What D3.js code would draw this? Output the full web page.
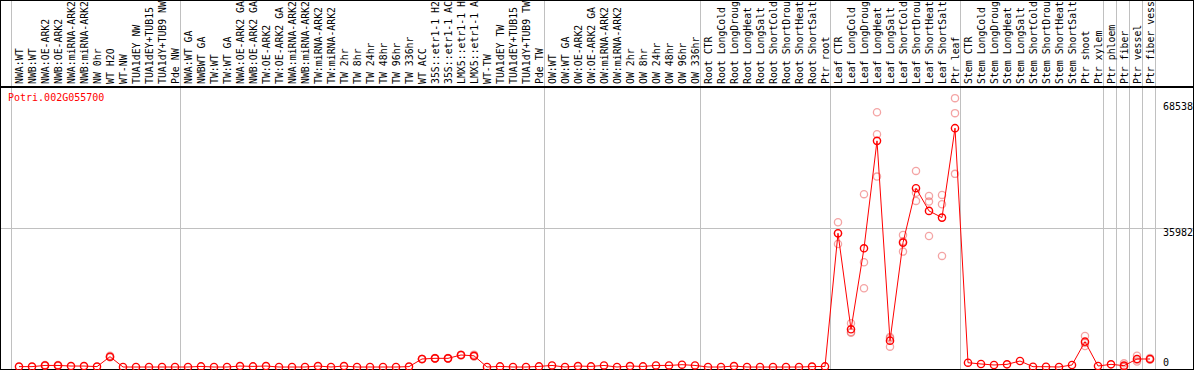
<!DOCTYPE html>
<html><head><meta charset="utf-8">
<script src="https://cdn.jsdelivr.net/npm/d3@7"></script>
<style>
html,body{margin:0;padding:0;background:#fff;}
svg{display:block;}
text{font-family:"DejaVu Sans Mono",monospace;font-size:10px;}
</style></head>
<body>
<svg id="c" width="1194" height="370"></svg>
<script>
const title = "Potri.002G055700";
const categories = [
"NWA:WT","NWB:WT","NWA:OE-ARK2","NWB:OE-ARK2","NWA:miRNA-ARK2","NWB:miRNA-ARK2","NW 0hr","WT H2O","WT-NW","TUA1dEY NW","TUA1dEY+TUB15 NW","TUA1dY+TUB9 NW","Pde NW",
"NWA:WT GA","NWBWT GA","TW:WT","TW:WT GA","NWA:OE-ARK2 GA","NWB:OE-ARK2 GA","TW:OE-ARK2","TW:OE-ARK2 GA","NWA:miRNA-ARK2","NWB:miRNA-ARK2","TW:miRNA-ARK2","TW:miRNA-ARK2","TW 2hr","TW 8hr","TW 24hr","TW 48hr","TW 96hr","TW 336hr","WT ACC","35S::etr1-1 H2O","35S::etr1-1 ACC","LMX5::etr1-1 H2O","LMX5::etr1-1 ACC","WT-TW","TUA1dEY TW","TUA1dEY+TUB15 TW","TUA1dY+TUB9 TW","Pde TW",
"OW:WT","OW:WT GA","OW:OE-ARK2","OW:OE-ARK2 GA","OW:miRNA-ARK2","OW:miRNA-ARK2","OW 2hr","OW 8hr","OW 24hr","OW 48hr","OW 96hr","OW 336hr",
"Root CTR","Root LongCold","Root LongDrought","Root LongHeat","Root LongSalt","Root ShortCold","Root ShortDrought","Root ShortHeat","Root ShortSalt","Ptr root",
"Leaf CTR","Leaf LongCold","Leaf LongDrought","Leaf LongHeat","Leaf LongSalt","Leaf ShortCold","Leaf ShortDrought","Leaf ShortHeat","Leaf ShortSalt","Ptr leaf",
"Stem CTR","Stem LongCold","Stem LongDrought","Stem LongHeat","Stem LongSalt","Stem ShortCold","Stem ShortDrought","Stem ShortHeat","Stem ShortSalt","Ptr shoot","Ptr xylem",
"Ptr phloem","Ptr fiber","Ptr vessel","Ptr fiber vessel"
];
const means = [
100,100,400,400,250,250,100,2670,0,0,0,0,0,
0,150,0,0,250,150,250,0,0,0,250,0,250,0,0,0,0,100,2070,2240,2240,3100,2900,0,150,0,0,150,
400,0,250,150,400,0,250,150,400,400,600,400,
0,0,250,0,0,0,0,0,100,150,
34600,9750,30700,58490,6810,32170,46240,40370,38640,61770,
1110,780,520,690,1550,80,80,0,520,6550,260,
690,350,2070,2070
];
// replicate values where they are visibly apart from the mean (index -> values)
const replicateIdx = [2,3,7,31,32,33,34,35,63,64,65,66,67,68,69,70,71,72,82,85,86,87];
const replicateVals = [
[300,500,400],[300,500,400],[2900,2500,2600],[2000,2100,2100],[2200,2300,2200],[2300,2200,2200],[3000,3200,3100],[3200,2700,2800],
[37450,31830,34520],[11300,8880,9070],[44700,27100,20370],[65900,60220,49250],[7420,5260,7750],[34160,29840,32510],[50720,42960,45040],[44250,42780,33900],[44510,42100,28730],[69540,65660,49950],
[8020,5430,6200],[950,0,100],[2920,1400,1900],[2300,1900,2000]
];
const yTicks = [0, 35982, 68538];
const gridTicks = [35982];
const groupBreaks = [0,13,41,53,63,73,84,85,86,87,88];

const W = 1194, H = 370;
const svg = d3.select("#c");
const x = d3.scaleBand().domain(d3.range(categories.length + 1)).range([11, 11 + 13*(categories.length+1)]).paddingInner(0).paddingOuter(0);
const px = i => x(i) + 8;
const y = d3.scaleLinear().domain([0, 68538]).range([367, 102]);

// vertical group grid lines
svg.append("g").selectAll("line").data(groupBreaks).join("line")
  .attr("x1", d => x(d) + 0.5).attr("x2", d => x(d) + 0.5)
  .attr("y1", 0).attr("y2", H)
  .attr("stroke", "#c0c0c0").attr("stroke-width", 1).attr("shape-rendering","crispEdges");

// horizontal grid line
svg.append("g").selectAll("line").data(gridTicks).join("line")
  .attr("x1", 0).attr("x2", W).attr("y1", d => Math.round(y(d)) + 0.5).attr("y2", d => Math.round(y(d)) + 0.5)
  .attr("stroke", "#c0c0c0").attr("stroke-width", 1).attr("shape-rendering","crispEdges");

// category labels: the header is 84px tall, so only the first 14 characters fit (as in the original)
const fit = s => s.length > 14 ? s.slice(0, 14).trimEnd() : s;
svg.append("g").selectAll("text").data(categories).join("text")
  .attr("transform", (d,i) => `translate(${px(i)+4},84) rotate(-90)`)
  .attr("fill", "#000")
  .style("font-size", "9.85px")
  .text(d => fit(d))
  .append("title").text(d => d);

// header separator
svg.append("line").attr("x1",0).attr("x2",W).attr("y1",87).attr("y2",87)
  .attr("stroke","#000").attr("stroke-width",2).attr("shape-rendering","crispEdges");

// border
svg.append("rect").attr("x",0.5).attr("y",0.5).attr("width",W-1).attr("height",H-1.5)
  .attr("fill","none").attr("stroke","#000").attr("stroke-width",1).attr("shape-rendering","crispEdges");

// y tick labels
svg.append("g").selectAll("text").data(yTicks).join("text")
  .attr("x", 1163)
  .attr("y", d => d === 0 ? 366 : y(d) + 8)
  .attr("fill", "#000")
  .text(d => d);

// title
svg.append("text").attr("x", 8).attr("y", 101).attr("fill", "#ff0000").text(title);

// replicate points
const repData = [];
replicateIdx.forEach((idx, k) => replicateVals[k].forEach(v => repData.push({i: idx, v})));
svg.append("g").selectAll("circle").data(repData).join("circle")
  .attr("cx", d => px(d.i)).attr("cy", d => y(d.v)).attr("r", 3.6)
  .attr("fill", "none").attr("stroke", "rgba(235,90,90,0.55)").attr("stroke-width", 1.3);

// mean line
const line = d3.line().x((d,i) => px(i)).y(d => y(d));
svg.append("path").datum(means).attr("d", line)
  .attr("fill","none").attr("stroke","#ff0000").attr("stroke-width",1);

// mean points
svg.append("g").selectAll("circle").data(means).join("circle")
  .attr("cx", (d,i) => px(i)).attr("cy", d => y(d)).attr("r", 3.6)
  .attr("fill", "none").attr("stroke", "#ff0000").attr("stroke-width", 1.4);
</script>
</body></html>
